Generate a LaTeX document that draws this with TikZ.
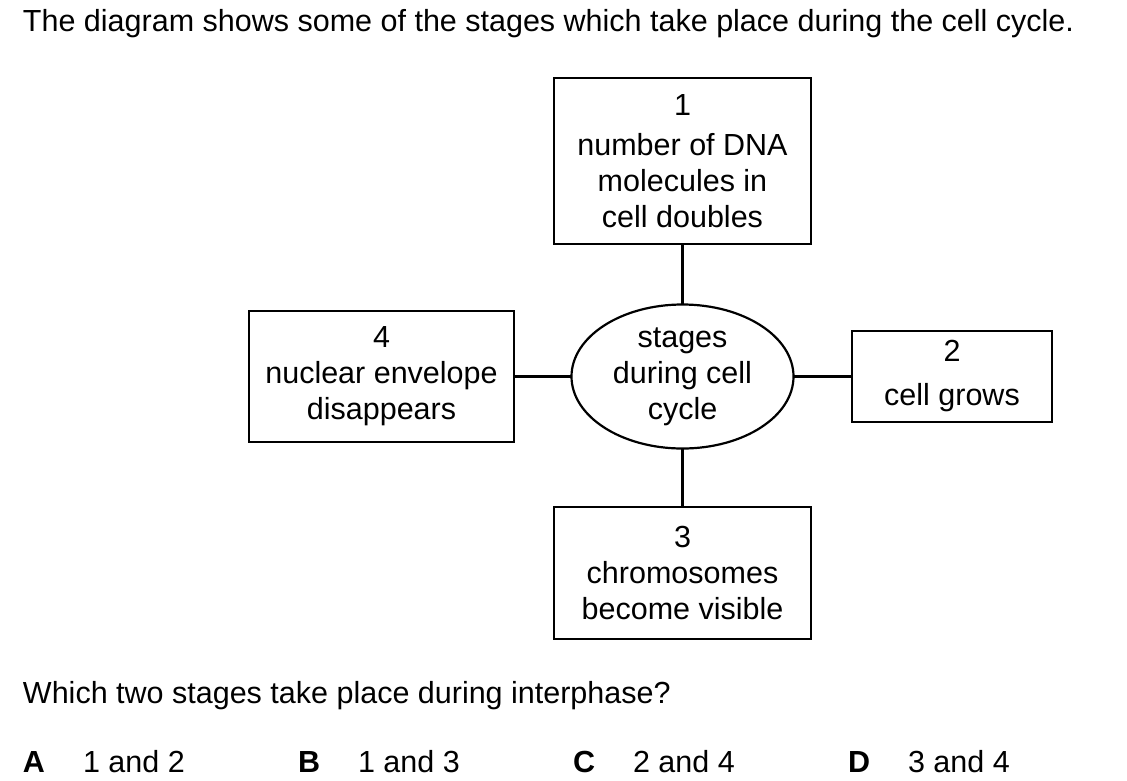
\documentclass[tikz,border=0pt]{standalone}
\usepackage{fontspec}
\setmainfont{Liberation Sans}
\usepackage{tikz}
\usetikzlibrary{positioning}
\usetikzlibrary{shapes.geometric}
\tikzstyle{cycle_text} = [font = \fontsize{30.5}{36}\selectfont, inner sep = 0, outer sep = 0]
\tikzstyle{cycle_box} = [cycle_text, draw, line width = 2.8, align = center, rectangle]
\tikzstyle{cycle_hub} = [cycle_text, draw, line width = 2.2, align = center, ellipse, minimum width = 222, minimum height = 144]
\tikzstyle{cycle_link} = [line width = 2.8]
\tikzstyle{cycle_line} = [cycle_text, anchor = base west]

\begin{document}
\begin{tikzpicture}[x = 1pt, y = -1pt]
    \useasboundingbox (0, 0) rectangle (1127, 780);
    \node [style = {cycle_line}] (title) at (23, 31) {The diagram shows some of the stages which take place during the cell cycle.};
    \node [style = {cycle_hub}] (hub) at (682.5, 376.5) {stages\\during cell\\cycle};
    \node [style = {cycle_box}, minimum width = 257, minimum height = 166] (stage_1) at (682.5, 161) {1\\[4pt]number of DNA\\molecules in\\cell doubles};
    \node [style = {cycle_box}, minimum width = 200, minimum height = 91] (stage_2) at (952, 376.5) {2\\[8pt]cell grows};
    \node [style = {cycle_box}, minimum width = 257, minimum height = 132] (stage_3) at (682.5, 573) {3\\chromosomes\\become visible};
    \node [style = {cycle_box}, minimum width = 265, minimum height = 131] (stage_4) at (381.5, 376.5) {4\\nuclear envelope\\disappears};
    \draw [cycle_link] (stage_1.south) -- (hub.north);
    \draw [cycle_link] (stage_3.north) -- (hub.south);
    \draw [cycle_link] (stage_2.west) -- (hub.east);
    \draw [cycle_link] (stage_4.east) -- (hub.west);
    \node [style = {cycle_line}] (question) at (23, 703) {Which two stages take place during interphase?};
    \node [style = {cycle_line}] (key_a) at (23, 772) {\textbf{A}};
    \node [style = {cycle_line}] (answer_a) at (83, 772) {1 and 2};
    \node [style = {cycle_line}] (key_b) at (298, 772) {\textbf{B}};
    \node [style = {cycle_line}] (answer_b) at (358, 772) {1 and 3};
    \node [style = {cycle_line}] (key_c) at (573, 772) {\textbf{C}};
    \node [style = {cycle_line}] (answer_c) at (633, 772) {2 and 4};
    \node [style = {cycle_line}] (key_d) at (848, 772) {\textbf{D}};
    \node [style = {cycle_line}] (answer_d) at (908, 772) {3 and 4};
\end{tikzpicture}
\end{document}
